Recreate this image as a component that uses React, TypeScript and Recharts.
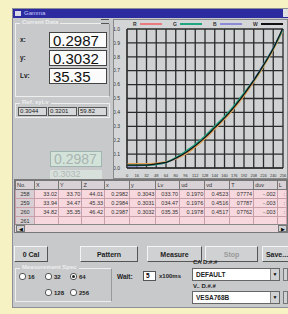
import React from 'react';
import { LineChart, Line, XAxis, YAxis, CartesianGrid } from 'recharts';

// gamma curve, normalized luminance per input level
const levels = [0, 16, 32, 48, 64, 80, 96, 112, 128, 144, 160, 176, 192, 208, 224, 240, 255];
const rVals = [0.03, 0.03, 0.03, 0.035, 0.045, 0.065, 0.1, 0.15, 0.21, 0.28, 0.35, 0.43, 0.52, 0.62, 0.73, 0.85, 0.98];
const gVals = [0.02, 0.02, 0.02, 0.025, 0.04, 0.075, 0.12, 0.17, 0.23, 0.3, 0.37, 0.45, 0.54, 0.63, 0.74, 0.86, 0.99];
const bVals = [0.015, 0.015, 0.02, 0.025, 0.04, 0.07, 0.115, 0.165, 0.225, 0.295, 0.365, 0.445, 0.535, 0.635, 0.745, 0.865, 0.99];
const wVals = [0.02, 0.02, 0.02, 0.03, 0.04, 0.07, 0.11, 0.16, 0.22, 0.29, 0.36, 0.44, 0.53, 0.63, 0.74, 0.86, 1.0];
const xTicks = [0, 16, 32, 48, 64, 80, 96, 112, 128, 144, 160, 176, 192, 208, 224, 240, 256];
const yTicks = [0, 0.1, 0.2, 0.3, 0.4, 0.5, 0.6, 0.7, 0.8, 0.9, 1.0];

const tableHeader = ['No.', 'X', 'Y', 'Z', 'x', 'y', 'Lv', 'ud', 'vd', 'T', 'duv', 'L'];
const tableRows = [
  ['258', '33.02', '33.70', '44.01', '0.2982', '0.3043', '033.70', '0.1970', '0.4523', '07774', '-.002', ':'],
  ['259', '33.94', '34.47', '45.33', '0.2984', '0.3031', '034.47', '0.1976', '0.4516', '07787', '-.003', ':'],
  ['260', '34.82', '35.35', '46.42', '0.2987', '0.3032', '035.35', '0.1978', '0.4517', '07762', '-.003', ':'],
  ['261', '', '', '', '', '', '', '', '', '', '', ''],
];
const colWidths = [20, 25, 24, 23, 25, 27, 23, 25, 25, 24, 25, 8];

const current = [
  { label: 'x:', value: '0.2987' },
  { label: 'y:', value: '0.3032' },
  { label: 'Lv:', value: '35.35' },
];
const refValues = ['0.3044', '0.3201', '59.82'];

const data = levels.map((lv, i) => ({ lv, R: rVals[i], G: gVals[i], B: bVals[i], W: wVals[i] }));

const legend = [
  { name: 'R', color: '#e87a80' },
  { name: 'G', color: '#1fa57f' },
  { name: 'B', color: '#8a8ad8' },
  { name: 'W', color: '#111111' },
];

const font = '"Liberation Sans", Arial, sans-serif';
const winGray = '#c7c9cb';

const box = (extra: React.CSSProperties): React.CSSProperties => ({
  position: 'absolute',
  boxSizing: 'border-box',
  ...extra,
});

const Button = ({ x, w, text, disabled }: { x: number; w: number; text: string; disabled?: boolean }) => (
  <div
    style={box({
      left: x, top: 246, width: w, height: 16,
      background: '#cfd1d3',
      borderTop: '1px solid #f4f4f4', borderLeft: '1px solid #f4f4f4',
      borderRight: '1px solid #555', borderBottom: '1px solid #555',
      fontSize: 7, fontWeight: 'bold', color: disabled ? '#9a9a9a' : '#222',
      display: 'flex', alignItems: 'center', justifyContent: 'center',
    })}
  >
    {text}
  </div>
);

const Radio = ({ x, y, text, on }: { x: number; y: number; text: string; on?: boolean }) => (
  <div style={box({ left: x, top: y, fontSize: 6, fontWeight: 'bold', color: '#222', display: 'flex', alignItems: 'center' })}>
    <span style={{ width: 5, height: 5, borderRadius: 3, border: '1px solid #555', background: '#fff', marginRight: 2, position: 'relative' }}>
      {on && <span style={{ position: 'absolute', left: 1, top: 1, width: 3, height: 3, borderRadius: 2, background: '#222' }} />}
    </span>
    {text}
  </div>
);

const Select = ({ y, text }: { y: number; text: string }) => (
  <>
    <div style={box({ left: 192, top: y, width: 88, height: 13, background: '#fff', border: '1px solid #666', fontSize: 6.5, fontWeight: 'bold', paddingLeft: 3, lineHeight: '11px', color: '#222' })}>
      {text}
    </div>
    <div style={box({ left: 270, top: y + 1, width: 9, height: 11, background: '#cfd1d3', borderLeft: '1px solid #888', fontSize: 5, textAlign: 'center', lineHeight: '11px' })}>▼</div>
    <div style={box({ left: 283, top: y, width: 5, height: 13, background: '#cfd1d3', border: '1px solid #777' })} />
  </>
);

export default function App() {
  return (
    <div style={{ position: 'fixed', left: 0, top: 0, width: 288, height: 314, background: '#f7f2c4', fontFamily: font, overflow: 'hidden' }}>
      {/* window */}
      <div style={box({ left: 12, top: 8, width: 280, height: 300, background: winGray, border: '1px solid #8c8f98' })} />
      <div style={box({ left: 13, top: 9, width: 276, height: 9, background: '#2c2ca0', color: '#c8c8ff', fontSize: 6, paddingLeft: 11, lineHeight: '9px' })}>
        Gamma
      </div>
      <div style={box({ left: 15, top: 11, width: 6, height: 5, background: '#d8d8e8' })} />
      <div style={box({ left: 283, top: 9, width: 5, height: 8, background: '#e0e0e0' })} />

      {/* current data group */}
      <div style={box({ left: 15, top: 23, width: 95, height: 74, border: '1px solid #eee', borderRight: '1px solid #999' })} />
      <div style={box({ left: 20, top: 19, fontSize: 6, color: '#eeeeee', background: winGray, padding: '0 2px', fontWeight: 'bold' })}>Current Data</div>
      <div style={box({ left: 101, top: 19, width: 8, height: 5, borderTop: '1px solid #555', borderBottom: '1px solid #555' })} />
      {current.map((c, i) => (
        <React.Fragment key={c.label}>
          <div style={box({ left: 20, top: 36 + i * 18, fontSize: 6.5, fontWeight: 'bold', color: '#222' })}>{c.label}</div>
          <div style={box({ left: 49, top: 32 + i * 18, width: 58, height: 16, background: '#fbfbfb', border: '1px solid #444', fontSize: 15, lineHeight: '15px', paddingLeft: 3, color: '#111' })}>
            {c.value}
          </div>
        </React.Fragment>
      ))}
      <div style={box({ left: 15, top: 103, width: 95, height: 15, border: '1px solid #eee' })} />
      <div style={box({ left: 20, top: 99, fontSize: 6, color: '#eeeeee', background: winGray, padding: '0 2px', fontWeight: 'bold' })}>Ref. xyLv</div>
      {refValues.map((v, i) => (
        <div key={v} style={box({ left: 18 + i * 30, top: 107, width: 29, height: 9, background: '#d6d8da', border: '1px solid #555', fontSize: 6, lineHeight: '7px', paddingLeft: 1, color: '#222' })}>
          {v}
        </div>
      ))}
      {/* faded reflection */}
      <div style={box({ left: 50, top: 151, width: 52, height: 16, background: '#d3e3da', border: '1px solid #a0b4b0', fontSize: 14, color: '#a8b4b0', paddingLeft: 3, lineHeight: '14px' })}>0.2987</div>
      <div style={box({ left: 50, top: 170, width: 52, height: 9, background: '#d8e0dc', fontSize: 9, color: '#b0b8b4', paddingLeft: 3, lineHeight: '9px', overflow: 'hidden' })}>0.3032</div>

      {/* chart */}
      <div style={box({ left: 113, top: 19, width: 175, height: 160, background: '#d3d5d6', border: '1px solid #8a8a8a' })}>
        <div style={{ position: 'absolute', top: 1, left: 0, width: '100%', display: 'flex', paddingLeft: 19, fontSize: 5, fontWeight: 'bold', color: '#333' }}>
          {legend.map((l) => (
            <div key={l.name} style={{ display: 'flex', alignItems: 'center', width: 40 }}>
              <span style={{ marginRight: 3 }}>{l.name}</span>
              <span style={{ width: 22, height: 1.5, background: l.color }} />
            </div>
          ))}
        </div>
        <LineChart width={173} height={158} data={data} margin={{ top: 9, right: 4, left: 0, bottom: 3 }}>
          <CartesianGrid stroke="#2a2a2a" strokeWidth={1.3} horizontalValues={yTicks} verticalValues={xTicks} fill="#cfd1d2" />
          <XAxis
            dataKey="lv" type="number" domain={[0, 256]} ticks={xTicks} interval={0}
            tick={{ fontSize: 4, fill: '#333' }} tickLine={false} axisLine={{ stroke: '#2a2a2a' }} height={7} tickMargin={0}
          />
          <YAxis
            type="number" domain={[0, 1]} ticks={yTicks} interval={0}
            tickFormatter={(v: number) => v.toFixed(1)}
            tick={{ fontSize: 5, fill: '#333' }} tickLine={false} axisLine={{ stroke: '#2a2a2a' }} width={13} tickMargin={1}
          />
          <Line type="monotone" dataKey="R" stroke="#e0a050" strokeWidth={1.5} dot={false} isAnimationActive={false} />
          <Line type="monotone" dataKey="B" stroke="#7d86d6" strokeWidth={1.5} dot={false} isAnimationActive={false} />
          <Line type="monotone" dataKey="G" stroke="#1fa57f" strokeWidth={1.5} dot={false} isAnimationActive={false} />
          <Line type="monotone" dataKey="W" stroke="#111111" strokeWidth={1.2} dot={false} isAnimationActive={false} />
        </LineChart>
      </div>

      {/* table */}
      <div style={box({ left: 14, top: 179, width: 274, height: 54, background: '#f3d6dc', border: '1px solid #777', overflow: 'hidden' })}>
        <table style={{ borderCollapse: 'collapse', fontSize: 5.5, color: '#333', tableLayout: 'fixed' }}>
          <thead>
            <tr>
              {tableHeader.map((h, i) => (
                <th key={h + i} style={{ width: colWidths[i], height: 8, padding: '0 1px', background: '#d8d2d6', border: '1px solid #777', textAlign: 'left', fontWeight: 'normal' }}>
                  {h}
                </th>
              ))}
            </tr>
          </thead>
          <tbody>
            {tableRows.map((r) => (
              <tr key={r[0]}>
                {r.map((c, i) => (
                  <td key={i} style={{ height: 8, padding: '0 1px', border: '1px solid #c9a0aa', background: i === 0 ? '#d8cfd4' : '#f6d8de', textAlign: i === 0 ? 'center' : 'right', whiteSpace: 'nowrap', overflow: 'hidden' }}>
                    {c}
                  </td>
                ))}
              </tr>
            ))}
          </tbody>
        </table>
        <div style={box({ left: 0, top: 44, width: 274, height: 9, background: '#e8d8dc', borderTop: '1px solid #888' })} />
        <div style={box({ left: 1, top: 45, width: 9, height: 7, background: '#cfd1d3', border: '1px solid #777', fontSize: 5, textAlign: 'center', lineHeight: '6px' })}>◀</div>
        <div style={box({ left: 263, top: 45, width: 9, height: 7, background: '#cfd1d3', border: '1px solid #777', fontSize: 5, textAlign: 'center', lineHeight: '6px' })}>▶</div>
      </div>

      {/* buttons */}
      <Button x={14} w={34} text="0 Cal" />
      <Button x={80} w={58} text="Pattern" />
      <Button x={147} w={55} text="Measure" />
      <Button x={205} w={53} text="Stop" disabled />
      <Button x={262} w={30} text="Save..." />

      {/* measurement spec */}
      <div style={box({ left: 15, top: 268, width: 97, height: 34, border: '1px solid #eee', borderRight: '1px solid #999' })} />
      <div style={box({ left: 20, top: 264, fontSize: 6, color: '#eeeeee', background: winGray, padding: '0 2px', fontWeight: 'bold' })}>Measurement Spec</div>
      <Radio x={19} y={273} text="16" />
      <Radio x={45} y={273} text="32" />
      <Radio x={70} y={273} text="64" on />
      <Radio x={45} y={289} text="128" />
      <Radio x={70} y={289} text="256" />

      <div style={box({ left: 117, top: 273, fontSize: 6.5, fontWeight: 'bold', color: '#222' })}>Wait:</div>
      <div style={box({ left: 143, top: 271, width: 13, height: 10, background: '#fff', border: '1px solid #555', fontSize: 6.5, fontWeight: 'bold', paddingLeft: 2, lineHeight: '8px' })}>5</div>
      <div style={box({ left: 159, top: 273, fontSize: 6, fontWeight: 'bold', color: '#222' })}>x100ms</div>

      <div style={box({ left: 193, top: 259, fontSize: 6, fontWeight: 'bold', color: '#222' })}>CA D.#.#</div>
      <Select y={268} text="DEFAULT" />
      <div style={box({ left: 193, top: 283, fontSize: 6, fontWeight: 'bold', color: '#222' })}>V.. D.#.#</div>
      <Select y={291} text="VESA768B" />
    </div>
  );
}
